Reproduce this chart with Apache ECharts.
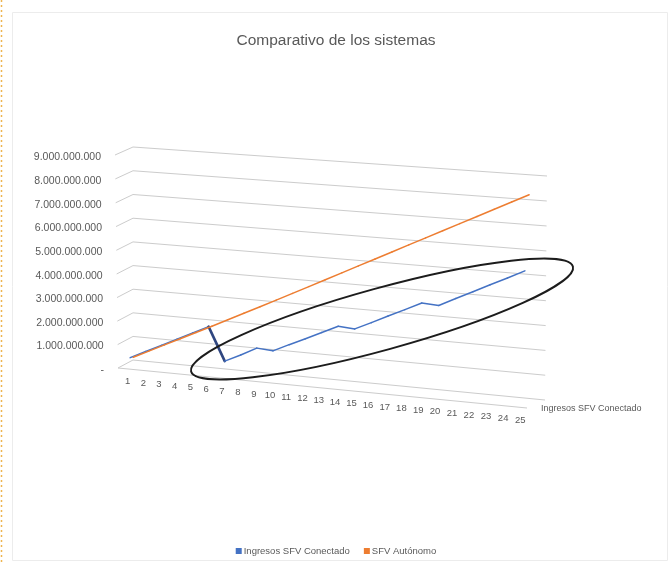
<!DOCTYPE html>
<html>
<head>
<meta charset="utf-8">
<script src="https://cdn.jsdelivr.net/npm/echarts@6/dist/echarts.min.js"></script>
<style>
  html, body { margin: 0; padding: 0; background: #ffffff; }
  #chart { width: 672px; height: 563px; }
</style>
</head>
<body>
<div id="chart"></div>
<script>
// ---- data -------------------------------------------------------------
const categories = ['1','2','3','4','5','6','7','8','9','10','11','12','13',
  '14','15','16','17','18','19','20','21','22','23','24','25'];

const seriesNames = ['Ingresos SFV Conectado', 'SFV Autónomo'];

const conectado = [
  370000000, 695000000, 1020000000, 1345000000, 1670000000, 1995000000,
  610000000, 930000000, 1280000000, 1230000000, 1550000000, 1860000000,
  2180000000, 2500000000, 2450000000, 2770000000, 3100000000, 3420000000,
  3750000000, 3710000000, 4050000000, 4380000000, 4720000000, 5050000000,
  5390000000
];

const autonomo = [
  320000000, 645000000, 970000000, 1295000000, 1620000000, 1945000000,
  2275000000, 2605000000, 2940000000, 3275000000, 3610000000, 3950000000,
  4290000000, 4630000000, 4970000000, 5310000000, 5650000000, 5990000000,
  6330000000, 6670000000, 7010000000, 7350000000, 7690000000, 8030000000,
  8370000000
];

const valueTicks = [0, 1000000000, 2000000000, 3000000000, 4000000000,
  5000000000, 6000000000, 7000000000, 8000000000, 9000000000];

const tickLabels = ['-', '1.000.000.000', '2.000.000.000', '3.000.000.000',
  '4.000.000.000', '5.000.000.000', '6.000.000.000', '7.000.000.000',
  '8.000.000.000', '9.000.000.000'];

// ---- 3D view ----------------------------------------------------------
// Screen corners of the back wall and of the front edge of the box.
const BACK  = { bl: [133, 360], br: [545, 400], tr: [547, 176], tl: [133, 147] };
const FRONT = { bl: [118, 368], br: [527, 408], tr: [529, 183], tl: [115, 155] };
const DEPTH_CONECTADO = 0.3;
const DEPTH_AUTONOMO = 0.5;
const FONT = '"Liberation Sans", Arial, sans-serif';
const TEXT = '#595959';
const GRID = '#cccccc';

// projective map of the unit square onto a quadrilateral
function squareToQuad(p0, p1, p2, p3) {
  const [x0, y0] = p0, [x1, y1] = p1, [x2, y2] = p2, [x3, y3] = p3;
  const dx1 = x1 - x2, dx2 = x3 - x2, dy1 = y1 - y2, dy2 = y3 - y2;
  const sx = x0 - x1 + x2 - x3, sy = y0 - y1 + y2 - y3;
  let g = 0, h = 0;
  if (Math.abs(sx) > 1e-9 || Math.abs(sy) > 1e-9) {
    const den = dx1 * dy2 - dx2 * dy1;
    g = (sx * dy2 - dx2 * sy) / den;
    h = (dx1 * sy - sx * dy1) / den;
  }
  const a = x1 - x0 + g * x1, b = x3 - x0 + h * x3, c = x0;
  const d = y1 - y0 + g * y1, e = y3 - y0 + h * y3, f = y0;
  return (u, v) => {
    const w = g * u + h * v + 1;
    return [(a * u + b * v + c) / w, (d * u + e * v + f) / w];
  };
}

const planes = {};
function plane(z) {
  if (!planes[z]) {
    const q = k => [FRONT[k][0] + (BACK[k][0] - FRONT[k][0]) * z,
                    FRONT[k][1] + (BACK[k][1] - FRONT[k][1]) * z];
    planes[z] = squareToQuad(q('bl'), q('br'), q('tr'), q('tl'));
  }
  return planes[z];
}

// grid pixel -> unit square coordinates
function unit(rect, pt) {
  return [(pt[0] - rect.x) / rect.width, (rect.y + rect.height - pt[1]) / rect.height];
}

function project(rect, pt, z) {
  const u = unit(rect, pt);
  return plane(z)(u[0], u[1]);
}

// ---- renderers --------------------------------------------------------
function renderGridLine(params, api) {
  const rect = params.coordSys;
  const Y = unit(rect, api.coord([0, api.value(1)]))[1];
  const f = plane(0)(0, Y), b0 = plane(1)(0, Y), b1 = plane(1)(1, Y);
  return {
    type: 'group',
    children: [
      { type: 'polyline', shape: { points: [f, b0, b1] },
        style: { stroke: GRID, lineWidth: 1, fill: null } },
      { type: 'text', x: f[0] - 14, y: f[1] + 2,
        style: { text: tickLabels[params.dataIndex], align: 'right', verticalAlign: 'middle',
                 fill: TEXT, fontSize: 10.5, fontFamily: FONT } }
    ]
  };
}

function renderFloor(params, api) {
  const p0 = plane(0)(0, 0), p1 = plane(0)(1, 0);
  return {
    type: 'group',
    children: [
      { type: 'line', shape: { x1: p0[0], y1: p0[1], x2: p1[0], y2: p1[1] },
        style: { stroke: GRID, lineWidth: 1 } },
      { type: 'text', x: p1[0] + 14, y: p1[1] + 1,
        style: { text: seriesNames[0], align: 'left', verticalAlign: 'middle',
                 fill: TEXT, fontSize: 9, fontFamily: FONT } }
    ]
  };
}

function renderCategoryLabel(params, api) {
  const rect = params.coordSys;
  const X = unit(rect, api.coord([api.value(0), 0]))[0];
  const f = plane(0)(X, 0);
  return {
    type: 'text', x: f[0] + 2, y: f[1] + 13,
    style: { text: categories[params.dataIndex], align: 'center', verticalAlign: 'middle',
             fill: TEXT, fontSize: 9.5, fontFamily: FONT }
  };
}

// one ribbon segment per pair of neighbouring years; steep drops show the darker side face
function segmentRenderer(depth, color, sideColor) {
  return function (params, api) {
    const i = api.value(0);
    const v0 = api.value(1), v1 = api.value(2);
    if (isNaN(v1)) return { type: 'group', children: [] };
    const rect = params.coordSys;
    const a = project(rect, api.coord([i, v0]), depth);
    const b = project(rect, api.coord([i + 1, v1]), depth);
    const steep = (v0 - v1) > 500000000;
    return {
      type: 'line',
      shape: { x1: a[0], y1: a[1], x2: b[0], y2: b[1] },
      style: { stroke: steep ? sideColor : color, lineWidth: steep ? 2.6 : 1.5, lineCap: 'round' }
    };
  };
}

const pairs = arr => arr.map((v, i) => [i, v, i + 1 < arr.length ? arr[i + 1] : NaN]);

// ---- chart ------------------------------------------------------------
const chart = echarts.init(document.getElementById('chart'));
chart.setOption({
  animation: false,
  backgroundColor: '#ffffff',
  title: {
    text: 'Comparativo de los sistemas',
    left: 'center', top: 28,
    textStyle: { color: TEXT, fontSize: 15.5, fontWeight: 'normal', fontFamily: FONT }
  },
  legend: {
    data: seriesNames,
    left: 'center', top: 541,
    icon: 'rect', itemWidth: 6, itemHeight: 6, itemGap: 14,
    textStyle: { color: TEXT, fontSize: 9.5, fontFamily: FONT, padding: [0, 0, 0, -3] }
  },
  grid: { left: 0, top: 0, width: 672, height: 563 },
  xAxis: { type: 'category', data: categories, show: false },
  yAxis: { type: 'value', min: 0, max: 9000000000, interval: 1000000000, show: false },
  graphic: [
    { type: 'rect', shape: { x: 12.5, y: 12.5, width: 655, height: 548 },
      style: { fill: null, stroke: '#ececec', lineWidth: 1 }, z: -1 },
    { type: 'line', shape: { x1: 1.5, y1: 0, x2: 1.5, y2: 563 },
      style: { stroke: '#eeb54f', lineWidth: 1.5, lineDash: [2, 3] }, z: -1 },
    { type: 'ellipse', x: 382, y: 319, rotation: 15.4 * Math.PI / 180,
      shape: { cx: 0, cy: 0, rx: 198, ry: 31 },
      style: { fill: null, stroke: '#1c1c1c', lineWidth: 2 }, z: 100 }
  ],
  series: [
    { type: 'custom', name: 'grid', silent: true, z: 1,
      data: valueTicks.map(v => [0, v]), renderItem: renderGridLine },
    { type: 'custom', name: 'floor', silent: true, z: 1,
      data: [[0, 0]], renderItem: renderFloor },
    { type: 'custom', name: 'categories', silent: true, z: 1,
      data: categories.map((c, i) => [i, 0]), renderItem: renderCategoryLabel },
    { type: 'custom', name: seriesNames[0], z: 3,
      itemStyle: { color: '#4472C4' },
      data: pairs(conectado), renderItem: segmentRenderer(DEPTH_CONECTADO, '#4472C4', '#2f4680') },
    { type: 'custom', name: seriesNames[1], z: 4,
      itemStyle: { color: '#ED7D31' },
      data: pairs(autonomo), renderItem: segmentRenderer(DEPTH_AUTONOMO, '#ED7D31', '#b85f22') }
  ]
});
</script>
</body>
</html>
